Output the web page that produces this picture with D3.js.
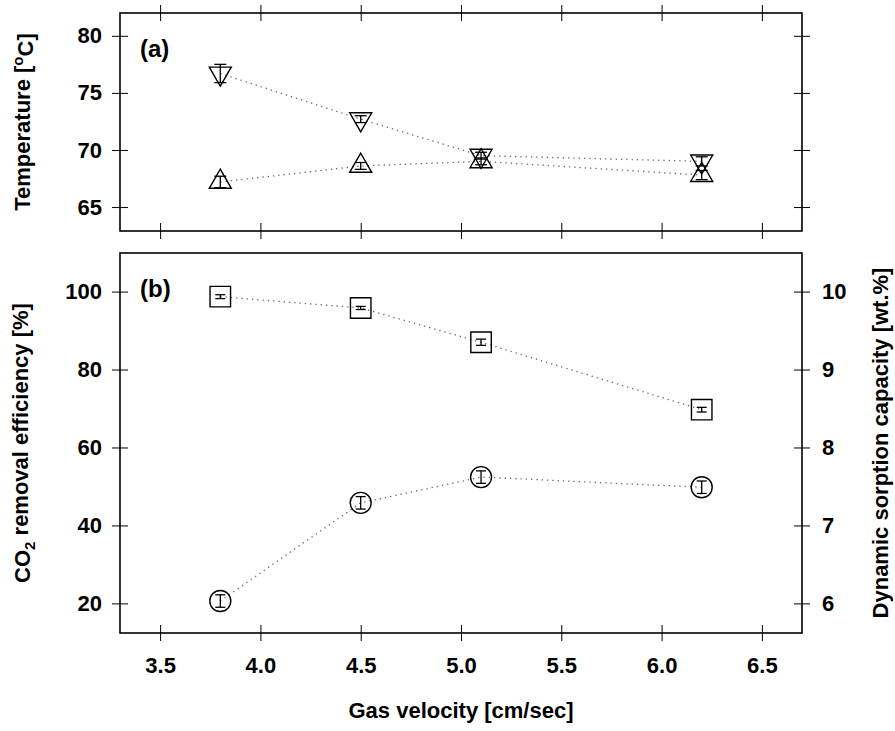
<!DOCTYPE html>
<html>
<head>
<meta charset="utf-8">
<script src="https://cdn.jsdelivr.net/npm/d3@7"></script>
<style>
  body { margin: 0; background: #fff; }
  svg text { font-family: "Liberation Sans", Arial, sans-serif; font-weight: bold; fill: #000; }
</style>
</head>
<body>
<svg id="chart" width="895" height="731"></svg>
<script>
"use strict";

// gas velocity (cm/sec) used for every series
const velocity = [3.8, 4.5, 5.1, 6.2];

// (a) temperatures, upper and lower curve
const tempHigh = [76.7, 72.7, 69.5, 69.0];
const tempHighErr = [0.8, 0.3, 0.3, 0.4];
const tempLow = [67.2, 68.6, 69.0, 67.8];
const tempLowErr = [0.5, 0.3, 0.3, 0.4];

// (b) removal efficiency (left axis) and sorption capacity (right axis)
const removalEff = [98.7, 95.8, 87.0, 69.7];
const removalErr = [0.5, 0.4, 0.8, 0.6];
const sorptionCap = [6.03, 7.29, 7.62, 7.49];
const sorptionErr = [0.08, 0.08, 0.08, 0.08];

const xTicks = [3.5, 4.0, 4.5, 5.0, 5.5, 6.0, 6.5];
const tempTicks = [65, 70, 75, 80];
const effTicks = [20, 40, 60, 80, 100];
const capTicks = [6, 7, 8, 9, 10];

// ticks in this chart poke through the frame on both sides
function crossTicks(g, attr, len) {
	g.selectAll(".tick line").attr(attr, len);
	g.select(".domain").remove();
}

function drawSeries(g, x, y, vals, errs, shape, cap) {
	let pts = velocity.map((v, i) => ({ v: v, y: vals[i], e: errs[i] }));

	g.append("path")
		.datum(pts)
		.attr("fill", "none")
		.attr("stroke", "#666")
		.attr("stroke-width", 1.3)
		.attr("stroke-dasharray", "1.3,4")
		.attr("d", d3.line().x(d => x(d.v)).y(d => y(d.y)));

	let bars = g.selectAll(null).data(pts).enter().append("g")
		.attr("stroke", "#000")
		.attr("stroke-width", 1.3);
	bars.append("line")
		.attr("x1", d => x(d.v)).attr("x2", d => x(d.v))
		.attr("y1", d => y(d.y - d.e)).attr("y2", d => y(d.y + d.e));
	bars.append("line")
		.attr("x1", d => x(d.v) - cap).attr("x2", d => x(d.v) + cap)
		.attr("y1", d => y(d.y + d.e)).attr("y2", d => y(d.y + d.e));
	bars.append("line")
		.attr("x1", d => x(d.v) - cap).attr("x2", d => x(d.v) + cap)
		.attr("y1", d => y(d.y - d.e)).attr("y2", d => y(d.y - d.e));

	g.selectAll(null).data(pts).enter().append("path")
		.attr("fill", "none")
		.attr("stroke", "#000")
		.attr("stroke-width", 1.4)
		.attr("d", shape.path)
		.attr("transform", d => `translate(${x(d.v)},${y(d.y)})` + (shape.rot ? " rotate(180)" : ""));
}

(() => {
	const svg = d3.select("#chart");
	const left = 120, right = 802;
	const topA = 13, botA = 231, topB = 253, botB = 633;

	const x = d3.scaleLinear().domain([3.3, 6.7]).range([left, right]);
	const yTemp = d3.scaleLinear().domain([62.9, 82.0]).range([botA, topA]);
	const yEff = d3.scaleLinear().domain([12.4, 109.9]).range([botB, topB]);
	const yCap = d3.scaleLinear().domain([5.62, 10.495]).range([botB, topB]);

	const tri = d3.symbol(d3.symbolTriangle, 210)();
	const sq = d3.symbol(d3.symbolSquare, 420)();
	const circ = d3.symbol(d3.symbolCircle, Math.PI * 10.5 * 10.5)();

	// ---- panel (a) ----
	svg.append("g").attr("transform", `translate(${left},0)`)
		.call(d3.axisLeft(yTemp).tickValues(tempTicks).tickSizeInner(8).tickSizeOuter(0).tickPadding(10).tickFormat(d3.format("d")))
		.call(g => crossTicks(g, "x1", 8))
		.call(g => g.selectAll("text").attr("font-size", 22).attr("font-family", null));
	svg.append("g").attr("transform", `translate(${right},0)`)
		.call(d3.axisRight(yTemp).tickValues(tempTicks).tickSizeInner(8).tickSizeOuter(0).tickFormat(""))
		.call(g => crossTicks(g, "x1", -8));
	svg.append("g").attr("transform", `translate(0,${topA})`)
		.call(d3.axisTop(x).tickValues(xTicks).tickSizeInner(8).tickSizeOuter(0).tickFormat(""))
		.call(g => crossTicks(g, "y1", 8));
	svg.append("g").attr("transform", `translate(0,${botA})`)
		.call(d3.axisBottom(x).tickValues(xTicks).tickSizeInner(8).tickSizeOuter(0).tickFormat(""))
		.call(g => crossTicks(g, "y1", -8));

	const gA = svg.append("g");
	drawSeries(gA, x, yTemp, tempHigh, tempHighErr, { path: tri, rot: true }, 6);
	drawSeries(gA, x, yTemp, tempLow, tempLowErr, { path: tri, rot: false }, 6);

	svg.append("rect")
		.attr("x", left).attr("y", topA)
		.attr("width", right - left).attr("height", botA - topA)
		.attr("fill", "none").attr("stroke", "#000").attr("stroke-width", 1.6);

	svg.append("text").attr("x", 140).attr("y", 57).attr("font-size", 24).text("(a)");

	let tLab = svg.append("text")
		.attr("transform", `translate(30,${(topA + botA) / 2}) rotate(-90)`)
		.attr("text-anchor", "middle").attr("font-size", 22);
	tLab.append("tspan").text("Temperature [");
	tLab.append("tspan").attr("dy", "-0.45em").attr("font-size", 15).text("o");
	tLab.append("tspan").attr("dy", "0.45em").text("C]");

	// ---- panel (b) ----
	svg.append("g").attr("transform", `translate(${left},0)`)
		.call(d3.axisLeft(yEff).tickValues(effTicks).tickSizeInner(8).tickSizeOuter(0).tickPadding(10))
		.call(g => crossTicks(g, "x1", 8))
		.call(g => g.selectAll("text").attr("font-size", 22).attr("font-family", null));
	svg.append("g").attr("transform", `translate(${right},0)`)
		.call(d3.axisRight(yCap).tickValues(capTicks).tickSizeInner(8).tickSizeOuter(0).tickPadding(12).tickFormat(d3.format("d")))
		.call(g => crossTicks(g, "x1", -8))
		.call(g => g.selectAll("text").attr("font-size", 22).attr("font-family", null));
	svg.append("g").attr("transform", `translate(0,${botB})`)
		.call(d3.axisBottom(x).tickValues(xTicks).tickSizeInner(8).tickSizeOuter(0).tickPadding(16).tickFormat(d3.format(".1f")))
		.call(g => crossTicks(g, "y1", -8))
		.call(g => g.selectAll("text").attr("font-size", 22).attr("font-family", null));

	const gB = svg.append("g");
	drawSeries(gB, x, yEff, removalEff, removalErr, { path: sq }, 5);
	drawSeries(gB, x, yCap, sorptionCap, sorptionErr, { path: circ }, 5);

	svg.append("rect")
		.attr("x", left).attr("y", topB)
		.attr("width", right - left).attr("height", botB - topB)
		.attr("fill", "none").attr("stroke", "#000").attr("stroke-width", 1.6);

	svg.append("text").attr("x", 140).attr("y", 297).attr("font-size", 24).text("(b)");

	let eLab = svg.append("text")
		.attr("transform", `translate(30,${(topB + botB) / 2}) rotate(-90)`)
		.attr("text-anchor", "middle").attr("font-size", 22);
	eLab.append("tspan").text("CO");
	eLab.append("tspan").attr("dy", "0.3em").attr("font-size", 15).text("2");
	eLab.append("tspan").attr("dy", "-0.3em").text(" removal efficiency [%]");

	svg.append("text")
		.attr("transform", `translate(888,${(topB + botB) / 2}) rotate(-90)`)
		.attr("text-anchor", "middle").attr("font-size", 22)
		.text("Dynamic sorption capacity [wt.%]");

	svg.append("text")
		.attr("x", (left + right) / 2).attr("y", 718)
		.attr("text-anchor", "middle").attr("font-size", 22)
		.text("Gas velocity [cm/sec]");
})();
</script>
</body>
</html>
